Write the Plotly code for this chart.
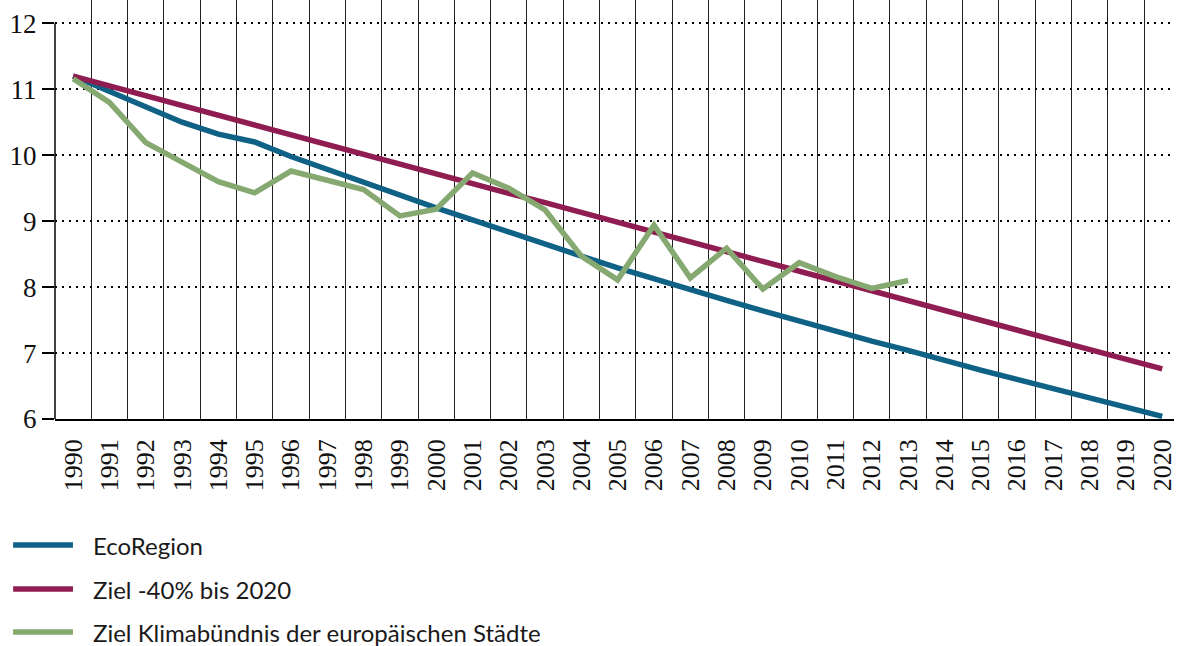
import plotly.graph_objects as go

years = list(range(1990, 2021))

eco_region = [11.20, 10.97, 10.73, 10.50, 10.32, 10.20, 9.98, 9.78, 9.58, 9.40,
              9.20, 9.02, 8.83, 8.65, 8.47, 8.29, 8.12, 7.96, 7.80, 7.64,
              7.48, 7.33, 7.18, 7.04, 6.88, 6.74, 6.60, 6.46, 6.32, 6.18, 6.04]

ziel_40 = [11.20, 11.05, 10.90, 10.76, 10.61, 10.46, 10.31, 10.16, 10.02, 9.87,
           9.72, 9.57, 9.42, 9.28, 9.13, 8.98, 8.83, 8.68, 8.54, 8.39,
           8.24, 8.09, 7.94, 7.80, 7.65, 7.50, 7.35, 7.20, 7.06, 6.91, 6.76]

klima_years = list(range(1990, 2014))
klima = [11.16, 10.80, 10.19, 9.89, 9.60, 9.43, 9.76, 9.62, 9.48, 9.08,
         9.18, 9.73, 9.50, 9.17, 8.47, 8.11, 8.94, 8.14, 8.59, 7.97,
         8.37, 8.16, 7.98, 8.10]

y_ticks = [6, 7, 8, 9, 10, 11, 12]
legend_names = ["EcoRegion", "Ziel -40% bis 2020", "Ziel Klimabündnis der europäischen Städte"]

c_blue = "#0f6286"
c_red = "#901d52"
c_green = "#85a971"

fig = go.Figure()
fig.add_trace(go.Scatter(x=years, y=eco_region, mode="lines",
                         line=dict(color=c_blue, width=5.5), name=legend_names[0]))
fig.add_trace(go.Scatter(x=years, y=ziel_40, mode="lines",
                         line=dict(color=c_red, width=5.5), name=legend_names[1]))
fig.add_trace(go.Scatter(x=klima_years, y=klima, mode="lines",
                         line=dict(color=c_green, width=5.5), name=legend_names[2]))

W, H = 1177, 646
L, B = 55, 227
plot_w = W - L
plot_h = H - B

fig.update_layout(
    width=W, height=H,
    margin=dict(l=L, r=0, t=0, b=B),
    paper_bgcolor="white", plot_bgcolor="white",
    showlegend=False,
    xaxis=dict(
        range=[1989.5, 1989.5 + plot_w / 36.4],
        tickvals=years, ticktext=[str(y) for y in years],
        tickangle=-90,
        tickfont=dict(family="Liberation Serif", size=26, color="#111"),
        ticks="", showgrid=False, zeroline=False,
        showline=True, linecolor="black", linewidth=1.5,
        ticklabelstandoff=8,
        ticklabeloverflow="allow",
        minor=dict(tickvals=[y + 0.5 for y in range(1989, 2021)],
                   showgrid=True, gridcolor="#222222", gridwidth=1.2, ticks=""),
    ),
    yaxis=dict(
        range=[6, 6 + plot_h / 65.95],
        tickvals=y_ticks,
        tickfont=dict(family="Liberation Serif", size=27, color="#111"),
        ticks="outside", ticklen=12, tickcolor="black", tickwidth=1.5,
        showgrid=True, gridcolor="black", gridwidth=2, griddash="2px,5px",
        zeroline=False, showline=False,
        ticklabelstandoff=0,
    ),
)

# y-axis line from 6 to 12
fig.add_shape(type="line", xref="paper", yref="y", x0=0, x1=0, y0=6, y1=12,
              line=dict(color="black", width=1.5))

# manual legend
leg_colors = [c_blue, c_red, c_green]
leg_py = [545, 589, 632]
for name, col, py in zip(legend_names, leg_colors, leg_py):
    yp = (plot_h - py) / plot_h
    fig.add_shape(type="line", xref="paper", yref="paper",
                  x0=(13 - L) / plot_w, x1=(73 - L) / plot_w, y0=yp, y1=yp,
                  line=dict(color=col, width=5.5))
    fig.add_annotation(xref="paper", yref="paper", x=(91 - L) / plot_w, y=yp,
                       text=name, showarrow=False, xanchor="left", yanchor="middle",
                       font=dict(family="Lato", size=24, color="#1a1a1a"))

fig.write_html("out.html", config={"displayModeBar": False},
               post_script="document.body.style.margin='0';document.body.style.overflow='hidden';")
